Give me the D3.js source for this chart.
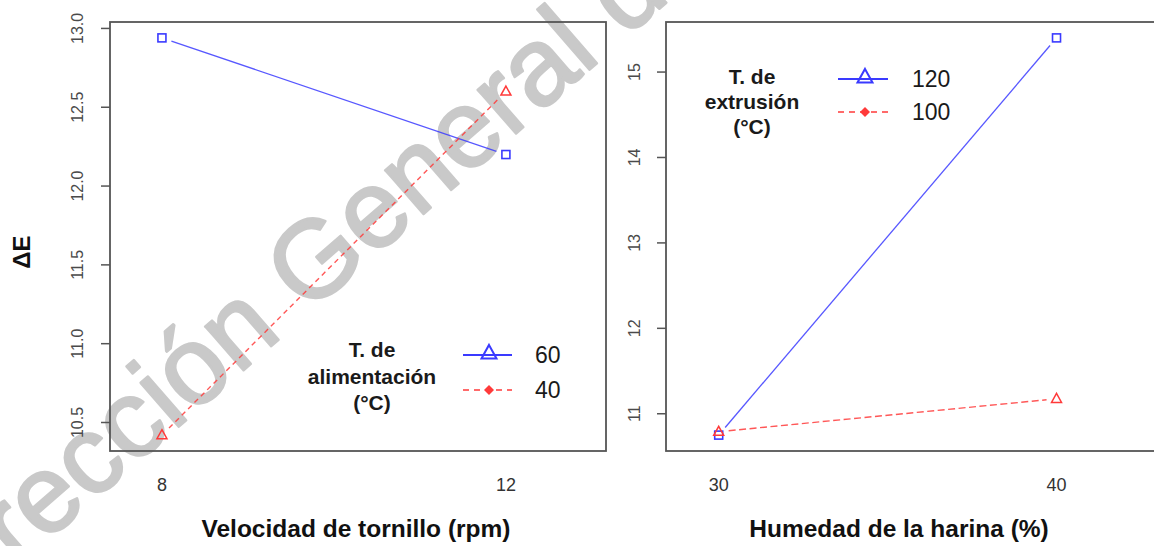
<!DOCTYPE html>
<html>
<head>
<meta charset="utf-8">
<script src="https://cdn.jsdelivr.net/npm/d3@7"></script>
<style>
  body { margin: 0; background: #ffffff; }
  svg { display: block; }
</style>
</head>
<body>
<svg id="chart" width="1154" height="546"></svg>
<script>
// Interaction plot data: colour difference (ΔE) for two factors
const screwSpeed = ["8", "12"];
const feedTemp60 = [12.94, 12.20];
const feedTemp40 = [10.42, 12.60];
const feedTicks = [10.5, 11.0, 11.5, 12.0, 12.5, 13.0];
const feedLegend = ["60", "40"];
const feedTitle = ["T. de", "alimentación", "(°C)"];

const flourMoisture = ["30", "40"];
const extrTemp120 = [10.75, 15.40];
const extrTemp100 = [10.79, 11.175];
const extrTicks = [11, 12, 13, 14, 15];
const extrLegend = ["120", "100"];
const extrTitle = ["T. de", "extrusión", "(°C)"];

const BLUE = "#3a3aff";
const RED = "#ff3a3a";
const FONT = "'Liberation Sans', Arial, sans-serif";

const svg = d3.select("#chart");

// Watermark text behind the plots
svg.append("text")
  .attr("transform", "translate(-62,636) rotate(-41)")
  .attr("font-family", FONT)
  .attr("font-size", 110)
  .attr("fill", "#c9c9c9")
  .attr("stroke", "#c9c9c9")
  .attr("stroke-width", 2.5)
  .attr("stroke-linejoin", "round")
  .text("Dirección General de");

// Shared y-axis title
svg.append("text")
  .attr("transform", "translate(30,252) rotate(-90)")
  .attr("text-anchor", "middle")
  .attr("font-family", FONT)
  .attr("font-weight", "bold")
  .attr("font-size", 24)
  .attr("fill", "#111")
  .text("ΔE");

const panels = [
  {
    cats: screwSpeed, solid: feedTemp60, dashed: feedTemp40, ticks: feedTicks,
    tickFmt: d3.format(".1f"),
    box: { x0: 110, x1: 606, y0: 22, y1: 451 }, xlim: [0.849, 2.291],
    tickLabelX: 77, dash: "5,4",
    xTitle: "Velocidad de tornillo (rpm)", xTitleX: 356,
    legend: feedLegend, legendTitle: feedTitle,
    leg: { titleX: 372, titleY: 357, titleStep: 26.5, lineX0: 463, lineX1: 512, markX: 489, lineY: 355, step: 35, textX: 535 }
  },
  {
    cats: flourMoisture, solid: extrTemp120, dashed: extrTemp100, ticks: extrTicks,
    tickFmt: d3.format("d"),
    box: { x0: 666, x1: 1168, y0: 22, y1: 451 }, xlim: [0.844, 2.33],
    tickLabelX: 634, dash: "7,3.5",
    xTitle: "Humedad de la harina (%)", xTitleX: 899,
    legend: extrLegend, legendTitle: extrTitle,
    leg: { titleX: 752, titleY: 84, titleStep: 25, lineX0: 838, lineX1: 888, markX: 865, lineY: 79, step: 33, textX: 912 }
  }
];

// Segment between two points, trimmed at both ends so markers stay clear
function trimmed(p, q, gap) {
  const dx = q[0] - p[0], dy = q[1] - p[1];
  const len = Math.hypot(dx, dy);
  const ux = dx / len, uy = dy / len;
  return [[p[0] + ux * gap, p[1] + uy * gap], [q[0] - ux * gap, q[1] - uy * gap]];
}

function triangle(cx, cy, w) {
  const h = w * 0.9;
  return `M${cx},${cy - h * 0.6}L${cx + w / 2},${cy + h * 0.4}L${cx - w / 2},${cy + h * 0.4}Z`;
}

panels.forEach(p => {
  const g = svg.append("g");
  const b = p.box;
  const all = p.solid.concat(p.dashed);
  const lo = d3.min(all), hi = d3.max(all), pad = (hi - lo) * 0.04;

  const x = d3.scaleLinear().domain(p.xlim).range([b.x0, b.x1]);
  const y = d3.scaleLinear().domain([lo - pad, hi + pad]).range([b.y1, b.y0]);

  // y ticks and rotated labels
  p.ticks.forEach(t => {
    g.append("line")
      .attr("x1", b.x0 - 9).attr("x2", b.x0)
      .attr("y1", y(t)).attr("y2", y(t))
      .attr("stroke", "#555").attr("stroke-width", 1.5);
    g.append("text")
      .attr("transform", `translate(${p.tickLabelX},${y(t)}) rotate(-90)`)
      .attr("text-anchor", "middle").attr("dy", "0.35em")
      .attr("font-family", FONT).attr("font-size", 16).attr("fill", "#4a4a4a")
      .text(p.tickFmt(t));
  });

  // x category labels
  p.cats.forEach((c, i) => {
    g.append("text")
      .attr("x", x(i + 1)).attr("y", 491)
      .attr("text-anchor", "middle")
      .attr("font-family", FONT).attr("font-size", 18).attr("fill", "#333")
      .text(c);
  });

  // x-axis title
  g.append("text")
    .attr("x", p.xTitleX).attr("y", 537)
    .attr("text-anchor", "middle")
    .attr("font-family", FONT).attr("font-weight", "bold").attr("font-size", 24.5)
    .attr("fill", "#111")
    .text(p.xTitle);

  // series lines
  const pts = arr => arr.map((v, i) => [x(i + 1), y(v)]);
  const solidPts = pts(p.solid), dashedPts = pts(p.dashed);
  const s1 = trimmed(solidPts[0], solidPts[1], 10);
  g.append("path").attr("d", d3.line()(s1))
    .attr("stroke", BLUE).attr("stroke-width", 1.3).attr("fill", "none").attr("opacity", 0.85);
  const s2 = trimmed(dashedPts[0], dashedPts[1], 10);
  g.append("path").attr("d", d3.line()(s2))
    .attr("stroke", RED).attr("stroke-width", 1.4).attr("fill", "none")
    .attr("stroke-dasharray", p.dash).attr("opacity", 0.85);

  // markers: squares for the solid series, triangles for the dashed one
  solidPts.forEach(q => {
    g.append("rect")
      .attr("x", q[0] - 4).attr("y", q[1] - 4).attr("width", 8).attr("height", 8)
      .attr("fill", "none").attr("stroke", BLUE).attr("stroke-width", 1.6);
  });
  dashedPts.forEach(q => {
    g.append("path").attr("d", triangle(q[0], q[1], 10))
      .attr("fill", "none").attr("stroke", RED).attr("stroke-width", 1.5);
  });

  // plot frame
  g.append("rect")
    .attr("x", b.x0).attr("y", b.y0).attr("width", b.x1 - b.x0).attr("height", b.y1 - b.y0)
    .attr("fill", "none").attr("stroke", "#555").attr("stroke-width", 1.8);

  // legend
  const L = p.leg;
  p.legendTitle.forEach((t, i) => {
    g.append("text")
      .attr("x", L.titleX).attr("y", L.titleY + i * L.titleStep)
      .attr("text-anchor", "middle")
      .attr("font-family", FONT).attr("font-weight", "bold").attr("font-size", 21)
      .attr("fill", "#1a1a1a")
      .text(t);
  });
  p.legend.forEach((lab, i) => {
    const ly = L.lineY + i * L.step;
    const line = g.append("line")
      .attr("x1", L.lineX0).attr("x2", L.lineX1).attr("y1", ly).attr("y2", ly)
      .attr("stroke", i === 0 ? BLUE : RED).attr("stroke-width", i === 0 ? 2 : 1.6);
    if (i === 0) {
      g.append("path").attr("d", triangle(L.markX, ly - 2, 15))
        .attr("fill", "none").attr("stroke", BLUE).attr("stroke-width", 2);
    } else {
      line.attr("stroke-dasharray", "6,5");
      g.append("path").attr("d", `M${L.markX},${ly - 5}L${L.markX + 5},${ly}L${L.markX},${ly + 5}L${L.markX - 5},${ly}Z`)
        .attr("fill", RED);
    }
    g.append("text")
      .attr("x", L.textX).attr("y", ly + 8)
      .attr("font-family", FONT).attr("font-size", 23).attr("fill", "#1a1a1a")
      .text(lab);
  });
});
</script>
</body>
</html>
